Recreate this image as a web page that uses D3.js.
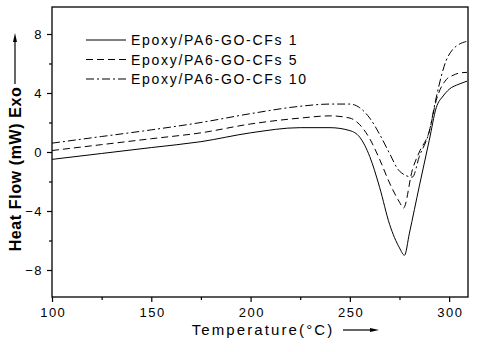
<!DOCTYPE html>
<html><head><meta charset="utf-8">
<script src="https://cdn.jsdelivr.net/npm/d3@7"></script>
<style>body{margin:0;background:#fff}svg{display:block}text{font-family:Arial,"Liberation Sans",sans-serif;fill:#000}</style>
</head><body><svg id="c" width="477" height="352"></svg>
<script>
const temps1 = [100,125,150,175,200,225,240,250,255,260,265,270,275,277.5,280,285,290,293.5,297,300,305,309];
const flow1  = [-0.5,-0.1,0.3,0.7,1.3,1.65,1.65,1.45,1.0,-0.3,-2.4,-4.9,-6.5,-7.0,-5.5,-2.3,0.8,3.0,3.8,4.25,4.6,4.8];
const temps5 = [100,125,150,175,200,225,240,250,255,260,265,270,275,277,281.5,285,290,293.5,298.5,302,305,309];
const flow5  = [0.1,0.5,0.9,1.3,1.9,2.3,2.45,2.3,1.85,0.9,-0.5,-2.1,-3.4,-3.8,-1.2,0.0,1.4,3.5,4.9,5.2,5.35,5.4];
const temps10 = [100,125,150,175,200,225,240,250,255,260,265,270,275,281.5,285,290,293.5,298.5,301.5,305,309];
const flow10  = [0.6,1.05,1.5,2.0,2.6,3.1,3.25,3.25,3.0,2.3,1.2,-0.1,-1.3,-1.7,-0.3,1.4,3.7,6.2,6.9,7.3,7.5];
const seriesNames = ["Epoxy/PA6-GO-CFs 1","Epoxy/PA6-GO-CFs 5","Epoxy/PA6-GO-CFs 10"];
const xTicks = [100,150,200,250,300];
const xMinor = [125,175,225,275];
const yTicks = [-8,-4,0,4,8];
const yMinor = [-6,-2,2,6];

const svg = d3.select("#c");
const L=52,R=468,T=7,B=297;
const x = d3.scaleLinear().domain([100,309.5]).range([L,R]);
const y = d3.scaleLinear().domain([-9.83,9.83]).range([B,T]);
const dashes = [null,"7,4","8,3,2,3"];
const data = [[temps1,flow1],[temps5,flow5],[temps10,flow10]];

const line = d3.line().x(d=>x(d[0])).y(d=>y(d[1])).curve(d3.curveMonotoneX);
data.forEach((s,i)=>{
  const pts = s[0].map((t,k)=>[t,s[1][k]]);
  svg.append("path").attr("d",line(pts)).attr("fill","none").attr("stroke","#000")
    .attr("stroke-width",1).attr("stroke-dasharray",dashes[i]);
});

// box
svg.append("rect").attr("x",L).attr("y",T).attr("width",R-L).attr("height",B-T)
  .attr("fill","none").attr("stroke","#000").attr("stroke-width",1.3);

// axes
const xa = svg.append("g").attr("transform",`translate(0,${B})`)
  .call(d3.axisBottom(x).tickValues(xTicks).tickSize(5).tickSizeOuter(0).tickPadding(6));
const xm = svg.append("g").attr("transform",`translate(0,${B})`)
  .call(d3.axisBottom(x).tickValues(xMinor).tickSize(3).tickSizeOuter(0).tickFormat(""));
const ya = svg.append("g").attr("transform",`translate(${L},0)`)
  .call(d3.axisLeft(y).tickValues(yTicks).tickSize(5).tickSizeOuter(0).tickPadding(4));
const ym = svg.append("g").attr("transform",`translate(${L},0)`)
  .call(d3.axisLeft(y).tickValues(yMinor).tickSize(3).tickSizeOuter(0).tickFormat(""));
[xa,xm,ya,ym].forEach(g=>{g.select(".domain").remove();g.selectAll("line").attr("stroke","#000").attr("stroke-width",1.2);});
[xa,ya].forEach(g=>g.selectAll("text").attr("font-size",13).attr("font-family","Arial, Liberation Sans, sans-serif").style("letter-spacing","1.5px"));
xa.selectAll("text").attr("dx","0.75px");

// legend
const lg = svg.append("g");
seriesNames.forEach((n,i)=>{
  const yy = 40 + i*19.5;
  lg.append("line").attr("x1",86).attr("x2",126).attr("y1",yy).attr("y2",yy)
    .attr("stroke","#000").attr("stroke-width",1).attr("stroke-dasharray",dashes[i]);
  lg.append("text").attr("x",131).attr("y",yy+5).attr("font-size",14)
    .style("letter-spacing","1.7px").text(n);
});

// axis titles
svg.append("text").attr("x",263).attr("y",335).attr("text-anchor","middle")
  .attr("font-size",15).style("letter-spacing","2.1px").text("Temperature(°C)");
svg.append("line").attr("x1",343).attr("x2",372).attr("y1",330).attr("y2",330).attr("stroke","#000").attr("stroke-width",1.2);
svg.append("path").attr("d","M370,328 L379,330 L370,332 Z").attr("fill","#000");

svg.append("text").attr("transform","translate(21,169) rotate(-90)").attr("text-anchor","middle")
  .attr("font-size",16).attr("font-weight","bold").style("letter-spacing","0.6px").text("Heat Flow (mW) Exo");
svg.append("line").attr("x1",15).attr("x2",15).attr("y1",84).attr("y2",40).attr("stroke","#000").attr("stroke-width",1.2);
svg.append("path").attr("d","M13,42 L15,33 L17,42 Z").attr("fill","#000");
</script></body></html>
